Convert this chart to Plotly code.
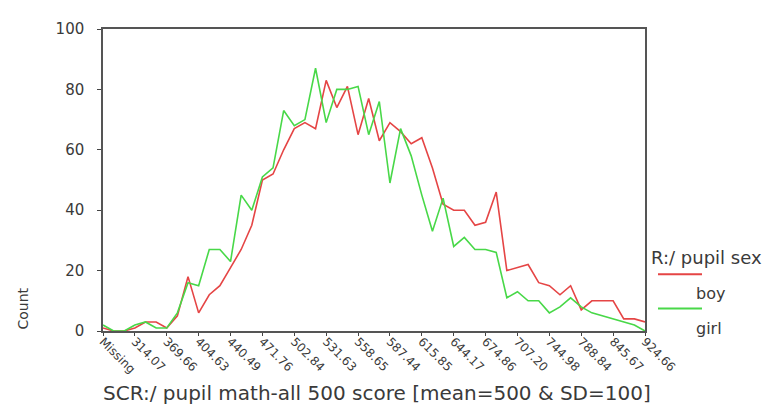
import plotly.graph_objects as go

tick_labels = ["Missing", "314.07", "369.66", "404.63", "440.49", "471.76", "502.84",
               "531.63", "558.65", "587.44", "615.85", "644.17", "674.86", "707.20",
               "744.98", "788.84", "845.67", "924.66"]

boy = [1, 0, 0, 1, 3, 3, 1, 5, 18, 6, 12, 15, 21, 27, 35, 50, 52, 60, 67, 69, 67, 83,
       74, 81, 65, 77, 63, 69, 66, 62, 64, 54, 42, 40, 40, 35, 36, 46, 20, 21, 22, 16,
       15, 12, 15, 7, 10, 10, 10, 4, 4, 3]
girl = [2, 0, 0, 2, 3, 1, 1, 6, 16, 15, 27, 27, 23, 45, 40, 51, 54, 73, 68, 70, 87, 69,
        80, 80, 81, 65, 76, 49, 67, 58, 45, 33, 44, 28, 31, 27, 27, 26, 11, 13, 10, 10,
        6, 8, 11, 8, 6, 5, 4, 3, 2, 0]

series_names = ["boy", "girl"]
series_colors = ["#e54545", "#48d848"]

idx = list(range(len(boy)))
tick_step = 3

fig = go.Figure()
for name, vals, col in zip(series_names, [boy, girl], series_colors):
    fig.add_trace(go.Scatter(x=idx, y=vals, mode="lines", name=name,
                             line=dict(color=col, width=1.6), showlegend=False))

W, H = 783, 405
L, R, T, B = 95, 146, 14, 82
pw, ph = W - L - R, H - T - B

def px(x):
    return (x - L) / pw

def py(y):
    return (H - B - y) / ph

font = "DejaVu Sans, Verdana, sans-serif"
txt = "#3a3a3a"

fig.update_layout(
    width=W, height=H,
    margin=dict(l=L, r=R, t=T, b=B, pad=0),
    paper_bgcolor="white", plot_bgcolor="white",
    font=dict(family=font, color=txt),
    xaxis=dict(range=[0, len(boy) - 1], tickvals=idx[::tick_step], ticktext=tick_labels,
               tickangle=45, ticks="outside", ticklen=3, tickcolor="#444",
               ticklabelstandoff=-6,
               tickfont=dict(size=12, color=txt), showgrid=False, zeroline=False,
               showline=True, linecolor="#555", linewidth=1.5, mirror=True),
    yaxis=dict(range=[0, 100], tickvals=[0, 20, 40, 60, 80, 100],
               ticks="outside", ticklen=4, tickcolor="#444", ticklabelstandoff=10,
               tickfont=dict(size=15, color=txt), showgrid=False, zeroline=False,
               showline=True, linecolor="#555", linewidth=1.5, mirror=True),
)

def note(text, x, y, size, xanchor="center", angle=0):
    fig.add_annotation(text=text, x=px(x), y=py(y), xref="paper", yref="paper",
                       xanchor=xanchor, yanchor="middle", textangle=angle,
                       showarrow=False, font=dict(size=size, color=txt))

# axis titles
note("Count", 15, 300, 14, angle=-90)
note("SCR:/ pupil math-all 500 score [mean=500 & SD=100]", 93, 386, 20, xanchor="left")

# legend (SPSS style)
note("R:/ pupil sex", 641, 248, 18, xanchor="left")
for i, (name, col) in enumerate(zip(series_names, series_colors)):
    ly = 265 + 35 * i
    fig.add_shape(type="line", xref="paper", yref="paper", x0=px(650), x1=px(694),
                  y0=py(ly), y1=py(ly), line=dict(color=col, width=2))
    note(name, 686, ly + 20, 16, xanchor="left")

fig.write_html("out.html")
